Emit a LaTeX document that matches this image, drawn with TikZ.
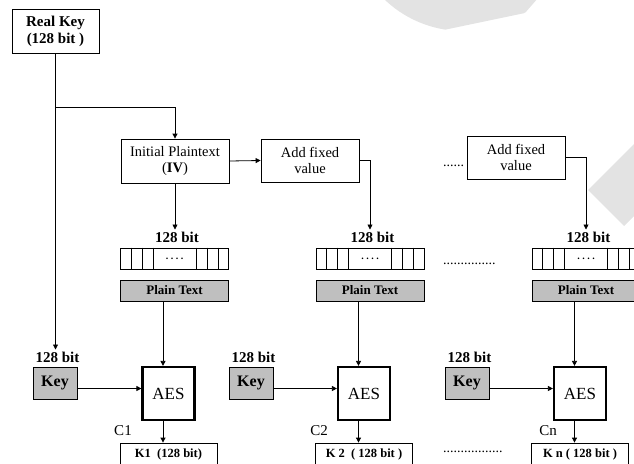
\documentclass[tikz,border=0pt]{standalone}
\usepackage{fontspec}
\setmainfont{Liberation Serif}
\usetikzlibrary{arrows.meta,calc}

\begin{document}
\begin{tikzpicture}[x=1pt,y=-1pt,
  line/.style={draw=black,line width=0.8pt},
  box/.style={line,fill=white,inner sep=0pt,align=center,font=\fontsize{14.5}{16.5}\selectfont},
  greybox/.style={line,fill=black!25,inner sep=0pt},
  aes/.style={draw=black,line width=2.2pt,fill=white,minimum width=52pt,minimum height=53pt,inner sep=0pt,font=\fontsize{17}{19}\selectfont},
  reg/.style={line,minimum width=108pt,minimum height=21pt,inner sep=0pt,font=\bfseries\fontsize{10}{12}\selectfont},
  bits/.style={font=\bfseries\fontsize{15}{17}\selectfont,inner sep=2pt},
  tag/.style={font=\fontsize{15}{17}\selectfont,inner sep=0pt},
  dots/.style={font=\fontsize{14}{16}\selectfont,inner sep=0pt,anchor=base west},
  arr/.style={draw=black,line width=0.8pt,-{Triangle[length=5pt,width=5pt]}},
  wm/.style={fill=black!11},
]
\clip (0,0) rectangle (634,463);

% faint watermark shapes
\begin{scope}
  \clip (300,-10) -- (545,-10) -- (525,13) -- (300,60) -- cycle;
  \fill[wm] (463,-82.6) circle (113.6);
\end{scope}
\fill[wm] (588,190) -- (624,226) -- (700,150) -- (664,114) -- cycle;

% key source and IV chain
\node[box,minimum width=87pt,minimum height=44pt,font=\bfseries\fontsize{15}{17}\selectfont] (rk) at (55.5,31) {Real Key\\(128 bit )};
\node[box,minimum width=108pt,minimum height=44pt] (iv) at (175,161) {Initial Plaintext\\(\textbf{IV})};
\node[box,minimum width=98pt,minimum height=43pt] (add1) at (310,160.5) {Add fixed\\value};
\node[box,minimum width=98pt,minimum height=43pt] (add3) at (516,157.5) {Add fixed\\value};
\coordinate (split) at (55.5,107);

% one column per block
\foreach \n/\x/\kx/\cx/\c/\kt in {1/174.5/55/123/C1/{K1\ \ (128 bit)},
                                  2/370/251/319/C2/{K 2\ \ ( 128 bit )},
                                  3/586/467/548/Cn/{K n ( 128 bit )}} {
  \node[bits] (bits\n) at (\x+2.5,237) {128 bit};
  \node[reg] (reg\n) at (\x,258.5) {.\ .\ .\ .};
  \foreach \d in {11,22,33} {
    \draw[line] ([xshift=\d pt]reg\n.north west) -- ([xshift=\d pt]reg\n.south west);
    \draw[line] ([xshift=-\d pt]reg\n.north east) -- ([xshift=-\d pt]reg\n.south east);
  }
  \node[greybox,minimum width=108pt,minimum height=21pt,font=\bfseries\fontsize{13}{15}\selectfont] (pt\n) at (\x,290.5) {Plain Text};
  \node[aes] (aes\n) at (\x-6,393.5) {AES};
  \node[greybox,minimum width=44pt,minimum height=32pt,font=\bfseries\fontsize{16}{18}\selectfont] (key\n) at (\kx,383) {Key};
  \node[bits] (kb\n) at (\kx+2.5,357) {128 bit};
  \node[box,minimum width=97pt,minimum height=22pt,font=\bfseries\fontsize{12.5}{14}\selectfont] (kk\n) at (\x-6,454) {\kt};
  \node[tag] (c\n) at (\cx,430.5) {\c};
  \draw[arr] ([xshift=-11.5pt]pt\n.south) -- ([xshift=-11.5pt]pt\n.south |- aes\n.north);
  \draw[arr] ([yshift=-5.5pt]key\n.east) -- ([yshift=-5.5pt]key\n.east -| aes\n.west);
  \draw[arr] ([xshift=-5.5pt]aes\n.south) -- ([xshift=-5.5pt]aes\n.south |- kk\n.north);
}

\draw[arr] (rk.south) -- (rk.south |- kb1.north);
\draw[arr] (split) -| (iv.north);
\draw[arr] (iv.east) -- (add1.west);
\draw[arr] (iv.south) -- (iv.south |- bits1.north);
\draw[arr] (add1.east) -| (reg2.center |- bits2.north);
\draw[arr] (add3.east) -| (reg3.center |- bits3.north);

\node[dots] (dots1) at (443,166) {......};
\node[dots] (dots2) at (443,264) {...............};
\node[dots] (dots3) at (443,452) {.................};

\end{tikzpicture}
\end{document}
